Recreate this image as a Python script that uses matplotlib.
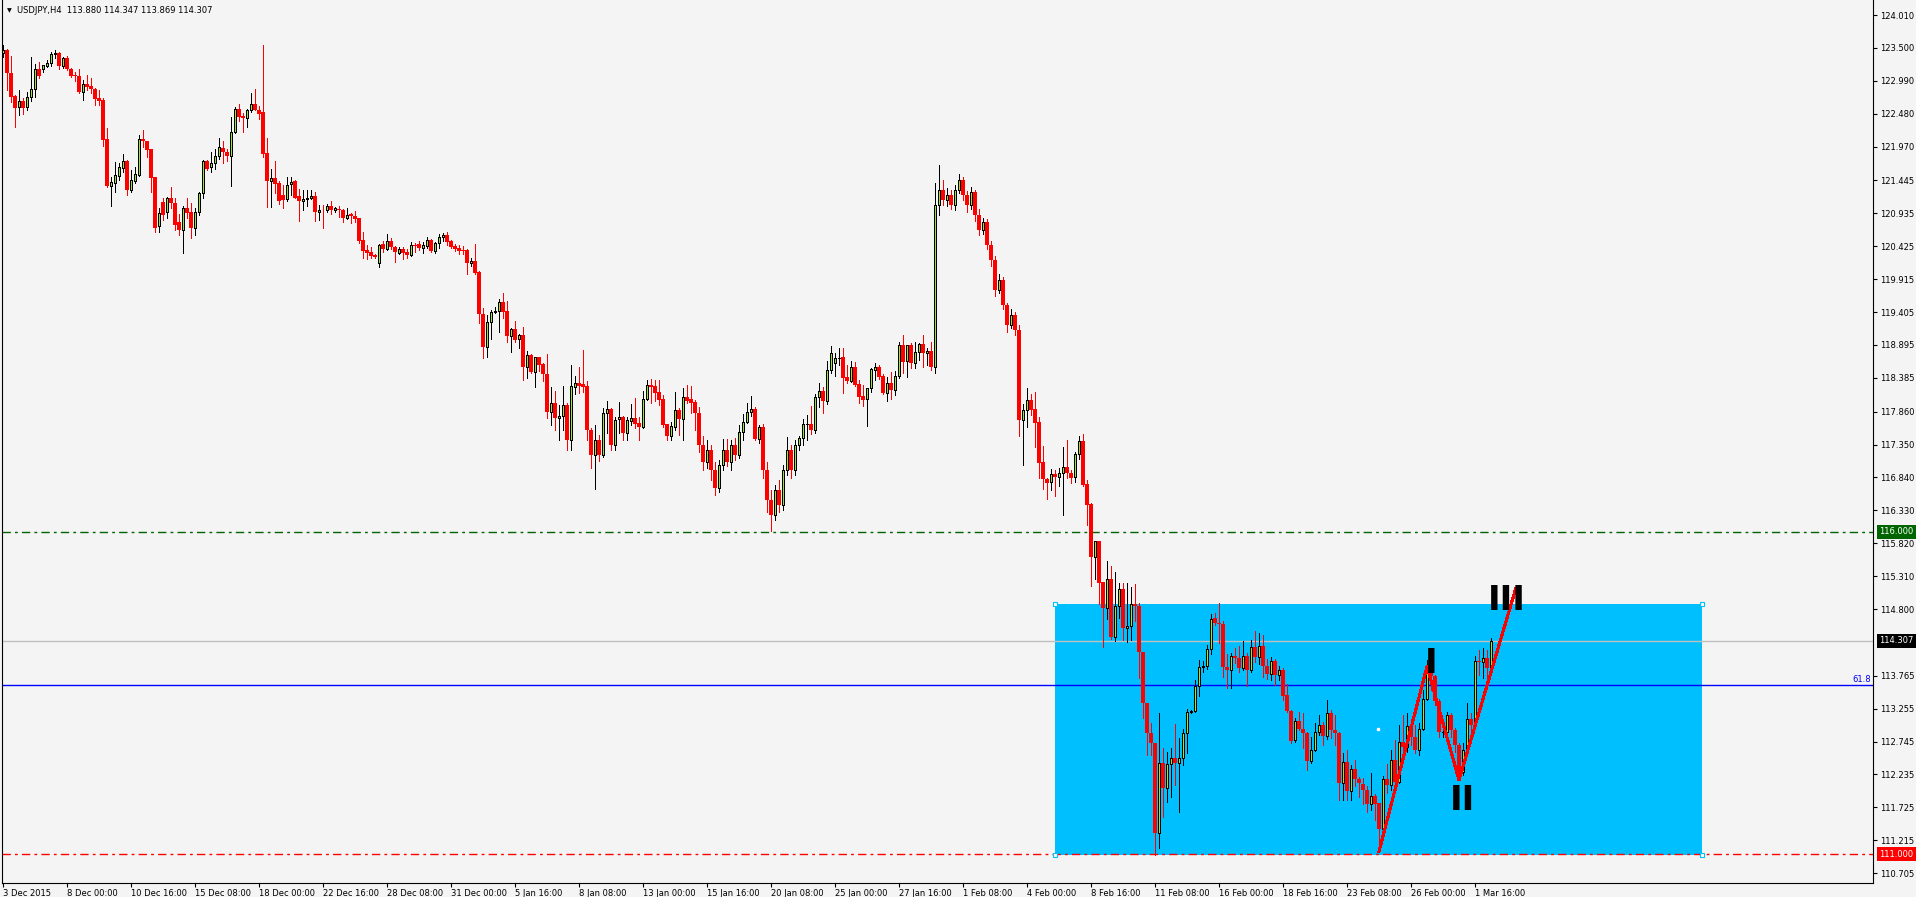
import numpy as np
import matplotlib
matplotlib.use('Agg')
import matplotlib.pyplot as plt
import matplotlib.transforms as mtransforms
from matplotlib.patches import Rectangle

# USDJPY H4 bars, oldest first (bar index = position on the time axis)
opens = [
    123.42, 123.47, 123.11, 122.75, 122.59, 122.68, 122.59, 122.74, 122.87, 123.17,
    123.18, 123.225, 123.26, 123.40, 123.42, 123.225, 123.34, 123.18, 123.08, 123.065,
    122.81, 122.94, 122.91, 122.87, 122.73, 122.69, 122.09, 121.36, 121.41, 121.52,
    121.64, 121.75, 121.29, 121.43, 121.53, 122.08, 122.06, 121.93, 121.50, 120.74,
    121.11, 120.95, 121.18, 121.10, 120.80, 120.68, 121.02, 120.96, 120.71, 120.95,
    121.25, 121.75, 121.66, 121.71, 121.825, 121.95, 121.89, 121.83, 122.19, 122.55,
    122.45, 122.42, 122.54, 122.63, 122.54, 122.50, 121.87, 121.43, 121.48, 121.41,
    121.22, 121.15, 121.39, 121.44, 121.20, 121.12, 121.16, 121.17, 121.205, 120.96,
    120.99, 120.98, 121.05, 120.99, 121.01, 120.99, 120.87, 120.92, 120.895, 120.87,
    120.52, 120.37, 120.33, 120.295, 120.16, 120.456, 120.384, 120.51, 120.42, 120.326,
    120.384, 120.34, 120.29, 120.445, 120.456, 120.404, 120.435, 120.523, 120.357, 120.47,
    120.565, 120.60, 120.507, 120.43, 120.404, 120.368, 120.368, 120.17, 120.197, 120.02,
    119.37, 118.87, 119.247, 119.40, 119.42, 119.556, 119.42, 119.04, 119.139, 118.983,
    119.05, 118.559, 118.736, 118.473, 118.705, 118.60, 118.44, 117.86, 117.99, 117.76,
    117.79, 117.966, 117.42, 118.25, 118.302, 118.29, 118.265, 117.58, 117.19, 117.42,
    117.19, 117.84, 117.90, 117.345, 117.74, 117.784, 117.526, 117.72, 117.764, 117.69,
    117.63, 118.055, 118.275, 118.26, 118.167, 118.058, 117.67, 117.49, 117.63, 117.888,
    117.744, 118.085, 118.06, 118.017, 117.84, 117.345, 117.08, 117.27, 116.96, 116.68,
    117.03, 117.27, 117.08, 117.345, 117.19, 117.547, 117.707, 117.85, 117.899, 117.44,
    117.62, 116.958, 116.49, 116.26, 116.648, 116.42, 116.958, 117.27, 116.958, 117.345,
    117.45, 117.666, 117.67, 117.58, 118.085, 118.18, 118.03, 118.50, 118.62, 118.69,
    118.705, 118.394, 118.337, 118.55, 118.29, 118.105, 118.054, 118.225, 118.51, 118.55,
    118.41, 118.15, 118.30, 118.198, 118.415, 118.895, 118.64, 118.895, 118.612, 118.782,
    118.91, 118.767, 118.80, 118.56, 121.065, 121.30, 121.143, 121.22, 121.065, 121.30,
    121.453, 121.22, 121.065, 121.27, 120.91, 120.68, 120.80, 120.445, 120.213, 119.748,
    119.90, 119.515, 119.205, 119.36, 119.13, 117.733, 117.888, 118.043, 117.90, 117.705,
    117.08, 116.814, 116.77, 116.89, 116.84, 116.907, 117.0, 116.917, 116.84, 117.20,
    117.407, 116.74, 116.43, 115.614, 115.85, 115.225, 114.82, 115.264, 114.36, 114.84,
    115.11, 114.51, 114.53, 114.88, 114.85, 114.14, 113.34, 112.88, 112.72, 111.33,
    112.42, 112.03, 112.40, 112.49, 112.42, 112.49, 112.88, 113.21, 113.22, 113.61,
    113.90, 113.91, 114.18, 114.66, 114.59, 114.57, 113.90, 113.86, 114.07, 114.04,
    113.89, 114.07, 113.86, 114.21, 114.05, 114.23, 113.92, 113.80, 114.0, 113.78,
    113.86, 113.47, 113.22, 112.77, 113.07, 112.94, 112.88, 112.45, 112.62, 112.90,
    113.0, 112.83, 113.19, 112.93, 112.88, 112.10, 112.43, 111.98, 112.32, 112.17,
    112.09, 112.0, 111.77, 111.90, 111.79, 111.39, 112.17, 112.07, 112.46, 112.12,
    112.74, 112.66, 112.99, 112.82, 112.62, 112.94, 113.41, 113.93, 113.76, 113.37,
    112.89, 112.90, 113.16, 112.92, 112.69, 112.27, 112.62, 113.09, 113.0, 114.0,
    113.98, 114.04, 113.88,
]
highs = [
    123.55, 123.48, 123.38, 122.77, 122.85, 122.72, 122.82, 123.36, 123.25, 123.28,
    123.24, 123.31, 123.44, 123.47, 123.44, 123.36, 123.38, 123.19, 123.12, 123.18,
    123.00, 123.08, 123.04, 122.88, 122.84, 122.73, 122.26, 121.50, 121.73, 121.72,
    121.85, 121.76, 121.61, 121.66, 122.15, 122.23, 122.06, 121.93, 121.50, 121.02,
    121.18, 121.19, 121.34, 121.18, 120.93, 121.05, 121.18, 121.09, 121.02, 121.27,
    121.76, 121.76, 121.89, 121.94, 122.10, 122.06, 121.94, 122.43, 122.59, 122.63,
    122.49, 122.56, 122.80, 122.86, 122.60, 123.545, 122.10, 121.62, 121.75, 121.43,
    121.375, 121.495, 121.495, 121.45, 121.32, 121.30, 121.30, 121.30, 121.26, 121.07,
    121.07, 121.076, 121.13, 121.03, 121.05, 121.0, 121.014, 120.94, 120.97, 120.87,
    120.65, 120.445, 120.42, 120.306, 120.46, 120.51, 120.616, 120.56, 120.434, 120.41,
    120.42, 120.379, 120.496, 120.47, 120.512, 120.496, 120.574, 120.533, 120.496, 120.616,
    120.636, 120.64, 120.518, 120.46, 120.445, 120.43, 120.383, 120.24, 120.46, 120.04,
    119.46, 119.36, 119.438, 119.49, 119.608, 119.705, 119.577, 119.164, 119.27, 119.066,
    119.17, 118.80, 118.75, 118.714, 118.714, 118.62, 118.756, 118.24, 118.18, 117.965,
    118.26, 118.0, 118.585, 118.415, 118.559, 118.82, 118.337, 117.60, 117.655, 117.50,
    117.915, 118.03, 117.91, 117.784, 118.017, 117.80, 117.784, 117.98, 118.07, 117.784,
    118.18, 118.353, 118.37, 118.353, 118.353, 118.12, 117.67, 117.707, 118.16, 117.92,
    118.224, 118.275, 118.26, 118.043, 117.94, 117.48, 117.42, 117.345, 117.08, 117.11,
    117.44, 117.44, 117.42, 117.45, 117.655, 117.826, 118.0, 118.105, 117.94, 117.65,
    117.67, 117.08, 116.65, 116.72, 116.80, 117.035, 117.47, 117.345, 117.42, 117.48,
    117.744, 117.806, 117.95, 118.136, 118.30, 118.24, 118.652, 118.88, 118.776, 118.844,
    118.844, 118.585, 118.652, 118.632, 118.353, 118.275, 118.225, 118.535, 118.61, 118.585,
    118.44, 118.404, 118.472, 118.493, 118.94, 119.05, 118.90, 118.92, 118.947, 118.92,
    119.05, 118.844, 118.947, 121.406, 121.68, 121.453, 121.33, 121.30, 121.38, 121.55,
    121.50, 121.28, 121.35, 121.30, 121.00, 120.86, 120.85, 120.50, 120.28, 120.0,
    119.95, 119.55, 119.45, 119.40, 119.2, 117.98, 118.225, 118.136, 118.16, 117.775,
    117.33, 116.83, 116.97, 116.96, 116.984, 117.32, 117.42, 116.96, 117.23, 117.485,
    117.52, 116.80, 116.44, 115.86, 115.85, 115.225, 115.54, 115.47, 115.38, 115.21,
    115.21, 115.21, 115.145, 115.19, 114.89, 114.14, 113.34, 113.03, 112.72, 113.19,
    112.65, 112.58, 112.65, 113.02, 112.80, 112.94, 113.25, 113.24, 113.70, 114.01,
    113.99, 114.24, 114.73, 114.74, 114.89, 114.62, 114.11, 114.12, 114.20, 114.22,
    114.30, 114.12, 114.32, 114.46, 114.43, 114.40, 114.03, 114.05, 114.03, 113.92,
    113.88, 113.64, 113.23, 113.11, 113.20, 113.19, 112.90, 112.82, 113.03, 113.16,
    113.05, 113.39, 113.24, 113.16, 112.90, 112.57, 112.62, 112.38, 112.46, 112.20,
    112.18, 112.05, 112.26, 111.93, 111.80, 112.21, 112.40, 112.62, 112.77, 113.0,
    113.16, 113.19, 113.10, 113.0, 113.04, 113.55, 114.01, 113.95, 113.78, 113.40,
    113.05, 113.21, 113.19, 112.95, 112.72, 112.72, 113.35, 113.19, 114.07, 114.17,
    114.20, 114.17, 114.347,
]
lows = [
    123.36, 122.84, 122.66, 122.28, 122.46, 122.48, 122.54, 122.68, 122.74, 123.04,
    123.12, 123.21, 123.225, 123.34, 123.17, 123.19, 123.16, 123.045, 122.98, 122.80,
    122.69, 122.84, 122.80, 122.62, 122.62, 121.98, 121.35, 121.05, 121.26, 121.45,
    121.58, 121.22, 121.27, 121.40, 121.515, 121.97, 121.81, 121.27, 120.65, 120.65,
    120.83, 120.87, 121.02, 120.68, 120.60, 120.32, 120.86, 120.55, 120.60, 120.91,
    121.18, 121.60, 121.57, 121.62, 121.78, 121.71, 121.75, 121.365, 122.18, 122.36,
    122.20, 122.28, 122.50, 122.53, 122.40, 121.81, 121.04, 121.04, 121.25, 121.08,
    121.02, 121.12, 121.22, 121.17, 120.82, 120.98, 121.05, 121.165, 120.82, 120.83,
    120.70, 120.96, 120.925, 120.96, 120.88, 120.807, 120.84, 120.79, 120.807, 120.48,
    120.25, 120.23, 120.24, 120.244, 120.11, 120.34, 120.37, 120.385, 120.187, 120.30,
    120.224, 120.24, 120.28, 120.33, 120.368, 120.326, 120.40, 120.34, 120.326, 120.394,
    120.512, 120.445, 120.404, 120.35, 120.301, 120.306, 119.99, 120.125, 119.996, 119.23,
    118.69, 118.70, 118.99, 119.386, 119.09, 119.32, 118.947, 118.78, 118.947, 118.84,
    118.353, 118.38, 118.457, 118.24, 118.497, 118.343, 117.76, 117.655, 117.58, 117.42,
    117.58, 117.27, 117.27, 118.13, 118.156, 118.17, 117.42, 116.99, 116.66, 117.10,
    117.15, 117.526, 117.27, 117.27, 117.526, 117.42, 117.42, 117.655, 117.604, 117.42,
    117.61, 118.043, 117.999, 118.032, 117.965, 117.629, 117.42, 117.42, 117.58, 117.50,
    117.42, 117.99, 117.84, 117.58, 117.235, 116.96, 116.99, 116.80, 116.57, 116.62,
    116.96, 117.02, 116.96, 117.11, 117.14, 117.42, 117.69, 117.80, 117.42, 117.38,
    116.83, 116.307, 116.01, 116.18, 116.307, 116.34, 116.88, 116.83, 116.88, 117.27,
    117.345, 117.42, 117.52, 117.536, 117.94, 117.84, 117.98, 118.465, 118.415, 118.585,
    118.156, 118.30, 118.316, 118.26, 118.0, 117.955, 117.645, 118.17, 118.353, 118.368,
    118.136, 118.03, 118.058, 118.12, 118.389, 118.465, 118.404, 118.535, 118.535, 118.66,
    118.55, 118.585, 118.50, 118.466, 120.91, 121.065, 121.05, 121.0, 120.99, 121.25,
    121.14, 120.95, 121.0, 120.82, 120.60, 120.62, 120.38, 120.12, 119.66, 119.70,
    119.45, 119.10, 119.15, 119.05, 117.485, 117.035, 117.63, 117.81, 117.317, 116.836,
    116.66, 116.51, 116.648, 116.545, 116.70, 116.26, 116.83, 116.76, 116.776, 117.124,
    116.70, 116.10, 115.16, 115.26, 114.88, 114.21, 114.64, 114.33, 114.30, 114.66,
    114.32, 114.29, 114.32, 114.62, 113.73, 113.11, 112.54, 112.54, 110.99, 111.10,
    111.58, 111.81, 111.89, 112.07, 111.66, 112.38, 112.57, 113.19, 113.20, 113.45,
    113.83, 113.87, 114.10, 114.55, 114.28, 113.75, 113.58, 113.57, 113.96, 113.83,
    113.85, 113.60, 113.83, 113.98, 113.95, 113.75, 113.72, 113.70, 113.62, 113.70,
    113.39, 113.21, 112.72, 112.74, 112.92, 112.65, 112.31, 112.42, 112.60, 112.85,
    112.69, 112.78, 112.80, 112.69, 111.84, 111.84, 111.84, 111.84, 112.06, 111.89,
    111.77, 111.66, 111.69, 111.53, 111.04, 111.38, 111.95, 112.0, 112.07, 112.10,
    112.54, 112.59, 112.69, 112.57, 112.54, 112.92, 113.39, 113.55, 113.32, 112.82,
    112.82, 112.82, 112.82, 112.59, 112.15, 112.23, 112.60, 112.85, 112.96, 113.78,
    113.73, 113.70, 113.869,
]
closes = [
    123.47, 123.11, 122.74, 122.57, 122.68, 122.57, 122.74, 122.86, 123.17, 123.07,
    123.23, 123.26, 123.40, 123.42, 123.225, 123.34, 123.17, 123.07, 123.065, 122.81,
    122.94, 122.89, 122.86, 122.71, 122.68, 122.07, 121.36, 121.42, 121.53, 121.65,
    121.75, 121.29, 121.45, 121.54, 122.08, 122.05, 121.92, 121.49, 120.71, 120.946,
    120.91, 121.18, 121.10, 120.755, 120.68, 121.02, 120.94, 120.71, 120.96, 121.256,
    121.75, 121.62, 121.71, 121.825, 121.96, 121.88, 121.83, 122.19, 122.55, 122.43,
    122.42, 122.54, 122.63, 122.53, 122.48, 121.86, 121.43, 121.48, 121.39, 121.12,
    121.14, 121.375, 121.42, 121.18, 121.12, 121.158, 121.17, 121.205, 120.96, 120.99,
    120.985, 121.05, 120.98, 121.02, 120.98, 120.87, 120.91, 120.90, 120.853, 120.51,
    120.357, 120.325, 120.28, 120.255, 120.445, 120.384, 120.507, 120.41, 120.33, 120.384,
    120.326, 120.29, 120.445, 120.435, 120.404, 120.445, 120.523, 120.357, 120.481, 120.565,
    120.60, 120.497, 120.419, 120.384, 120.357, 120.353, 120.17, 120.197, 120.016, 119.37,
    118.87, 119.247, 119.40, 119.42, 119.556, 119.41, 119.04, 119.139, 118.973, 119.05,
    118.559, 118.736, 118.473, 118.705, 118.585, 118.44, 117.857, 117.99, 117.76, 117.79,
    117.966, 117.42, 118.26, 118.302, 118.265, 118.24, 117.58, 117.19, 117.42, 117.19,
    117.84, 117.903, 117.345, 117.733, 117.784, 117.526, 117.733, 117.764, 117.67, 117.63,
    118.06, 118.275, 118.25, 118.156, 118.043, 117.655, 117.49, 117.64, 117.888, 117.744,
    118.085, 118.03, 118.0, 117.84, 117.345, 117.08, 117.27, 116.96, 116.68, 117.03,
    117.27, 117.08, 117.345, 117.19, 117.547, 117.707, 117.85, 117.899, 117.44, 117.62,
    116.958, 116.49, 116.26, 116.648, 116.42, 116.958, 117.27, 116.958, 117.345, 117.45,
    117.666, 117.67, 117.58, 118.085, 118.18, 118.03, 118.51, 118.776, 118.69, 118.695,
    118.384, 118.337, 118.55, 118.275, 118.085, 118.043, 118.225, 118.52, 118.55, 118.395,
    118.15, 118.30, 118.198, 118.415, 118.895, 118.637, 118.895, 118.612, 118.782, 118.91,
    118.767, 118.80, 118.559, 121.065, 121.30, 121.143, 121.22, 121.065, 121.30, 121.453,
    121.22, 121.065, 121.27, 120.91, 120.68, 120.80, 120.445, 120.213, 119.748, 119.90,
    119.515, 119.205, 119.36, 119.13, 117.733, 117.888, 118.043, 117.888, 117.69, 117.07,
    116.814, 116.76, 116.89, 116.84, 116.907, 117.0, 116.907, 116.83, 117.204, 117.407,
    116.725, 116.42, 115.614, 115.85, 115.21, 114.82, 115.264, 114.36, 114.84, 115.11,
    114.51, 114.53, 114.88, 114.84, 114.14, 113.34, 112.88, 112.72, 111.33, 112.42,
    112.03, 112.40, 112.49, 112.42, 112.49, 112.88, 113.21, 113.22, 113.61, 113.90,
    113.91, 114.18, 114.65, 114.59, 114.57, 113.90, 113.86, 114.07, 114.04, 113.89,
    114.07, 113.86, 114.21, 114.05, 114.23, 113.92, 113.80, 114.0, 113.78, 113.86,
    113.45, 113.22, 112.76, 113.07, 112.94, 112.88, 112.45, 112.62, 112.90, 113.0,
    112.83, 113.19, 112.93, 112.88, 112.10, 112.43, 111.98, 112.32, 112.17, 112.10,
    112.0, 111.77, 111.90, 111.77, 111.39, 112.17, 112.07, 112.46, 112.12, 112.74,
    112.66, 112.99, 112.82, 112.62, 112.94, 113.41, 113.92, 113.76, 113.37, 112.89,
    112.90, 113.16, 112.92, 112.69, 112.27, 112.62, 113.09, 113.0, 114.0, 113.98,
    114.04, 113.89, 114.307,
]

time_labels = ['3 Dec 2015', '8 Dec 00:00', '10 Dec 16:00', '15 Dec 08:00', '18 Dec 00:00',
               '22 Dec 16:00', '28 Dec 08:00', '31 Dec 00:00', '5 Jan 16:00', '8 Jan 08:00',
               '13 Jan 00:00', '15 Jan 16:00', '20 Jan 08:00', '25 Jan 00:00', '27 Jan 16:00',
               '1 Feb 08:00', '4 Feb 00:00', '8 Feb 16:00', '11 Feb 08:00', '16 Feb 00:00',
               '18 Feb 16:00', '23 Feb 08:00', '26 Feb 00:00', '1 Mar 16:00']
label_step = 16  # bars between time labels

price_ticks = [124.010, 123.500, 122.990, 122.480, 121.970, 121.445, 120.935, 120.425,
               119.915, 119.405, 118.895, 118.385, 117.860, 117.350, 116.840, 116.330,
               115.820, 115.310, 114.800, 113.765, 113.255, 112.745, 112.235, 111.725,
               111.215, 110.705]

# chart objects
level_support = 111.000
level_resist = 116.000
bid_price = 114.307
fib_level = 113.615
box_bars = (263, 424.75)
box_prices = (110.99, 114.88)
zigzag_bars = [344, 356, 364, 378.2]
zigzag_prices = [111.04, 113.91, 112.15, 115.12]
wave_labels = ['I', 'II', 'III']
wave_bars = [357, 365, 376]
wave_prices = [113.96, 111.83, 114.94]

bg = '#f4f4f4'
bull_fill = '#9ae62e'
plt.rcParams['lines.scale_dashes'] = False

W, H = 1916, 897
fig = plt.figure(figsize=(W / 100, H / 100), dpi=100, facecolor=bg)
ax = fig.add_axes([2 / W, 14 / H, 1871 / W, 883 / H])
ax.set_facecolor(bg)

o = np.array(opens)
hi = np.array(highs)
lo = np.array(lows)
c = np.array(closes)
x = np.arange(len(o))
bull = c >= o
bear = ~bull

# box and horizontal levels
ax.add_patch(Rectangle((box_bars[0], box_prices[0]), box_bars[1] - box_bars[0],
                       box_prices[1] - box_prices[0], facecolor='#00bfff',
                       edgecolor='none', zorder=1))
ax.axhline(bid_price, color='#c0c0c0', lw=1, zorder=2)
ax.axhline(fib_level, color='#0000ff', lw=1, zorder=2)
ax.axhline(level_resist, color='#006400', lw=1, ls=(0, (6, 3, 2, 3)), zorder=2)
ax.axhline(level_support, color='#ff0000', lw=1, ls=(0, (6, 3, 2, 3)), zorder=2)

# candles: thin wicks, red bodies without outline, green bodies with black outline
ax.vlines(x[bull], lo[bull], hi[bull], color='black', lw=0.72, zorder=3, antialiased=False)
ax.vlines(x[bear], lo[bear], hi[bear], color='#ff0000', lw=0.72, zorder=3, antialiased=False)
ax.bar(x[bear], o[bear] - c[bear], bottom=c[bear], width=0.82, color='#ff0000',
       edgecolor='none', linewidth=0, zorder=4, antialiased=False)
ax.bar(x[bull], c[bull] - o[bull], bottom=o[bull], width=0.68, color=bull_fill,
       edgecolor='black', linewidth=0.72, zorder=4, antialiased=False)

# zigzag and wave count
ax.plot(zigzag_bars, zigzag_prices, color='#ff0000', lw=1.5, zorder=5, antialiased=False)
for lab, bx, py in zip(wave_labels, wave_bars, wave_prices):
    ax.text(bx, py, lab, fontsize=24.5, fontweight='bold', color='black',
            ha='center', va='center', zorder=6)

# box handles
for bx in box_bars:
    for py in box_prices:
        ax.plot(bx, py, 's', ms=3, mfc='white', mec='#00bfff', mew=0.8, zorder=6)
ax.plot(sum(box_bars) / 2, sum(box_prices) / 2, 's', ms=2, mfc='white', mec='white', zorder=6)

# limits: 4 px per bar, 64.5 px per yen
ax.set_xlim(-0.25, 467.5)
ax.set_ylim(110.5527, 124.2426)

# axes styling
ax.spines['top'].set_visible(False)
for side in ['left', 'right', 'bottom']:
    ax.spines[side].set_color('black')
    ax.spines[side].set_linewidth(0.8)

ax.yaxis.tick_right()
ax.set_yticks(price_ticks)
ax.set_yticklabels(['%.3f' % v for v in price_ticks])
ax.set_xticks([k * label_step for k in range(len(time_labels))])
ax.set_xticklabels(time_labels)
for lab in ax.get_xticklabels():
    lab.set_horizontalalignment('left')
ax.tick_params(axis='y', direction='out', length=3, width=0.8, pad=2,
               labelsize=6, colors='black')
ax.tick_params(axis='x', direction='out', length=3, width=0.8, pad=1.5,
               labelsize=6, colors='black')

# price labels on the scale
trans = mtransforms.blended_transform_factory(ax.transAxes, ax.transData)
xlab = 1 + 6 / 1871
for val, fc in [(level_resist, '#006400'), (bid_price, 'black'), (level_support, '#ff0000')]:
    ax.text(xlab, val, '%.3f' % val, transform=trans, fontsize=6, color='white',
            ha='left', va='center', clip_on=False, zorder=10,
            bbox=dict(boxstyle='square,pad=0.3', fc=fc, ec='none'))
ax.text(1 - 2 / 1871, fib_level + 0.02, '61.8', transform=trans, fontsize=6,
        color='#0000ff', ha='right', va='bottom')

# header
fig.text(7 / W, 1 - 10.5 / H, '\u25bc', fontsize=4.5, color='black', ha='left', va='center')
fig.text(17 / W, 1 - 10.5 / H, 'USDJPY,H4  %.3f %.3f %.3f %.3f' % (o[-1], hi[-1], lo[-1], c[-1]),
         fontsize=6, color='black', ha='left', va='center')

fig.savefig('out.png', dpi=100, facecolor=bg)
